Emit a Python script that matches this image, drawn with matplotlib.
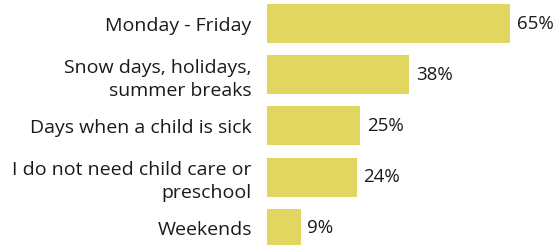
import matplotlib.pyplot as plt

categories = ['Monday - Friday', 'Snow days, holidays,\nsummer breaks', 'Days when a child is sick',
              'I do not need child care or\npreschool', 'Weekends']
values = [65, 38, 25, 24, 9]
bar_color = '#E0D660'

plt.rcParams['font.family'] = ['Open Sans', 'DejaVu Sans']

fig = plt.figure(figsize=(5.56, 2.45), dpi=100)
ax = fig.add_axes([267 / 556, 0, 289 / 556, 1])

pos = list(range(len(values)))
ax.barh(pos, values, height=0.76, color=bar_color)

for p, v in zip(pos, values):
    ax.text(v + 1.8, p, f'{v}%', va='center', ha='left', fontsize=13.5, color='#1a1a1a')

ax.set_yticks(pos)
ax.set_yticklabels(categories, fontsize=14, color='#1a1a1a', linespacing=1.35)
ax.tick_params(axis='y', length=0, pad=11)
ax.set_xticks([])
ax.set_xlim(0, 77.3)
ax.set_ylim(4.326, -0.459)
for s in ax.spines.values():
    s.set_visible(False)

fig.savefig('out.png', dpi=100)
